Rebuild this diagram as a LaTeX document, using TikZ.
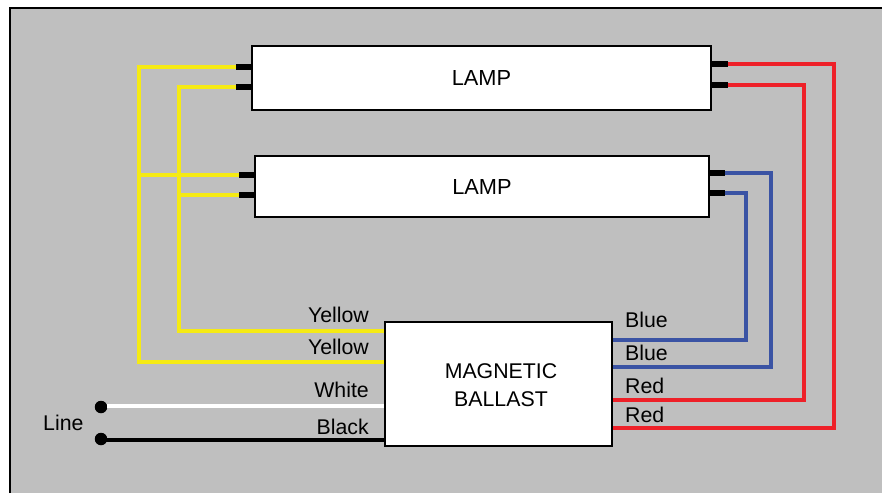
\documentclass[tikz,border=0pt]{standalone}
\usepackage{fontspec}
\setmainfont{Liberation Sans}
\definecolor{panelgray}{HTML}{BFBFBF}
\definecolor{wireyellow}{HTML}{F5EA14}
\definecolor{wirered}{HTML}{EE2028}
\definecolor{wireblue}{HTML}{3A53A4}
\tikzset{
  unit/.style={draw=black, line width=2pt, fill=white, inner sep=0pt, align=center},
  pin/.style={fill=black, inner sep=0pt, minimum width=16pt, minimum height=6pt},
  wire/.style={line width=4pt, line join=miter},
  lead/.style={font=\fontsize{21.3}{24}\selectfont, inner sep=0pt},
  dot/.style={circle, fill=black, inner sep=0pt, minimum size=12.5pt},
}
\begin{document}
\begin{tikzpicture}[x=1pt,y=-1pt]
    \useasboundingbox (0,0) rectangle (882,493);
    \fill[white] (0,0) rectangle (882,493);
    \fill[panelgray] (10,8) rectangle (882,493);
    \draw[black, line width=2pt] (10,493) -- (10,8) -- (882,8);

    % wires first, the boxes and pins go on top
    \coordinate (by1) at (385,331);
    \coordinate (by2) at (385,362);
    \coordinate (bw) at (385,406);
    \coordinate (bk) at (385,440);
    \coordinate (bb1) at (612,340);
    \coordinate (bb2) at (612,367);
    \coordinate (br1) at (612,400);
    \coordinate (br2) at (612,428);

    \node[pin] (pa1) at (244,67) {};
    \node[pin] (pa2) at (244,87) {};
    \node[pin] (pa3) at (720,64) {};
    \node[pin] (pa4) at (720,85) {};
    \node[pin] (pb1) at (247,175) {};
    \node[pin] (pb2) at (247,195) {};
    \node[pin] (pb3) at (717,173) {};
    \node[pin] (pb4) at (717,193) {};

    \draw[wire, wireyellow] (pa1.west) -| (139,362) -- (by2);
    \draw[wire, wireyellow] (pa2.west) -| (179,331) -- (by1);
    \draw[wire, wireyellow] (pb1.west) -- (139,175);
    \draw[wire, wireyellow] (pb2.west) -- (179,195);
    \draw[wire, wirered] (pa3.east) -| (834,428) -- (br2);
    \draw[wire, wirered] (pa4.east) -| (804,400) -- (br1);
    \draw[wire, wireblue] (pb3.east) -| (771,367) -- (bb2);
    \draw[wire, wireblue] (pb4.east) -| (746,340) -- (bb1);

    \node[dot] (la) at (101,407) {};
    \node[dot] (lb) at (101,439) {};
    \draw[wire, white] (la.east |- bw) -- (bw);
    \draw[wire, black] (lb.center |- bk) -- (bk);

    \node[unit, minimum width=459pt, minimum height=64pt, font=\fontsize{21.8}{24}\selectfont] (lampa) at (481.5,78) {LAMP};
    \node[unit, minimum width=454pt, minimum height=61pt, font=\fontsize{21.8}{24}\selectfont] (lampb) at (482,186.5) {LAMP};
    \node[unit, minimum width=227pt, minimum height=124pt] (ballast) at (498.5,384) {};
    \node[lead, align=center, font=\fontsize{21.3}{28}\selectfont] (ballasttext) at (501,385) {MAGNETIC\\BALLAST};

    \foreach \name/\x/\y/\txt in {ty1/369/322/Yellow, ty2/369/354/Yellow, tw/369/397/White, tk/369/434/Black}{
    \node[lead, anchor=base east] (\name) at (\x,\y) {\txt};
    }
    \foreach \name/\x/\y/\txt in {tb1/625/327.5/Blue, tb2/625/360/Blue, tr1/625/393/Red, tr2/625/422/Red, tl/43/430/Line}{
    \node[lead, anchor=base west] (\name) at (\x,\y) {\txt};
    }
\end{tikzpicture}
\end{document}
